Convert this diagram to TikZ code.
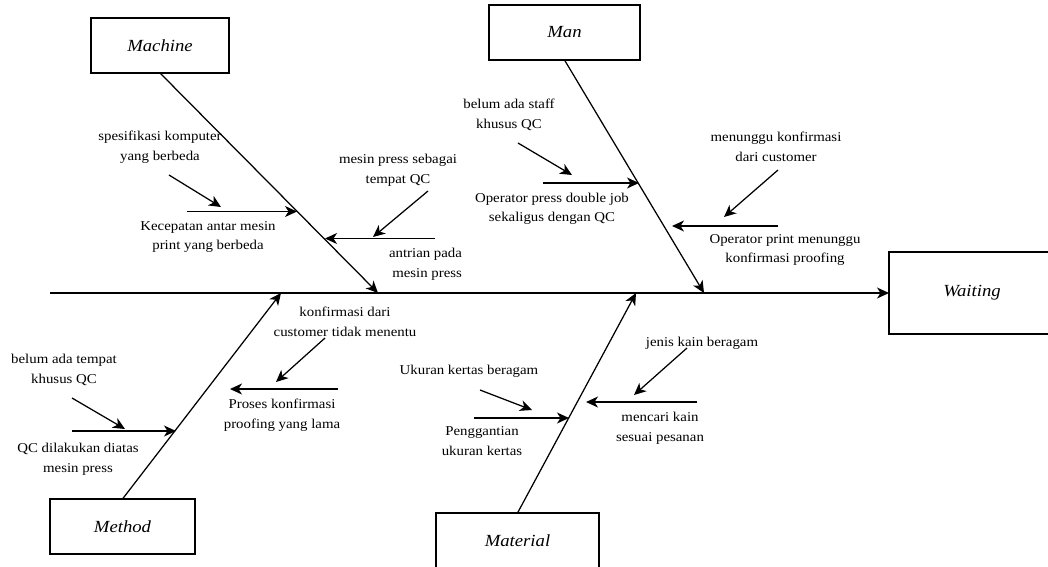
\documentclass[tikz,border=0pt]{standalone}
\usepackage{fontspec}
\setmainfont{Liberation Serif}[FakeStretch=1.1]
\usetikzlibrary{arrows.meta}
\begin{document}
\begin{tikzpicture}[x=1pt,y=-1pt,
  every node/.style={inner sep=0pt, outer sep=0pt},
  catbox/.style={draw, line width=1.2pt, font=\fontsize{17}{20}\selectfont\itshape},
  lbl/.style={align=center, font=\fontsize{13.5}{19.5}\selectfont},
  bone/.style={line width=1.25pt, -{Stealth[length=12pt,width=11pt,inset=3.5pt]}},
  sub/.style={line width=1.25pt, -{Stealth[length=12pt,width=11pt,inset=3.5pt]}}]
\useasboundingbox (0,0) rectangle (1048,566);

% category boxes
\node[catbox, minimum width=138pt, minimum height=55pt] (Machine) at (160,45.5) {Machine};
\node[catbox, minimum width=151pt, minimum height=55pt] (Man) at (564.5,32.5) {Man};
\node[catbox, minimum width=145pt, minimum height=55pt] (Method) at (122.5,526.5) {Method};
\node[catbox, minimum width=163pt, minimum height=64pt] (Material) at (517.5,545) {};
\node[font=\fontsize{17}{20}\selectfont\itshape] (MatLbl) at (517.5,541) {Material};
\node[draw, line width=1.2pt, minimum width=168pt, minimum height=82pt] (Wbox) at (973,293) {};
\node[font=\fontsize{17}{20}\selectfont\itshape] (Waiting) at (972,293) {Waiting};

% spine
\coordinate (tail) at (50,293);
\draw[bone] (tail) -- (Wbox.west);

% bone ends on spine
\coordinate (mc) at (378,293);
\coordinate (mn) at (704,293);
\coordinate (me) at (281,293);
\coordinate (ma) at (636,293);
\draw[bone] (Machine.south) -- (mc);
\draw[bone] (Man.south) -- (mn);
\draw[bone] (Method.north) -- (me);
\draw[bone] (Material.north) -- (ma);

% ---- Machine
\node[lbl] (L1) at (160,147) {spesifikasi komputer\\yang berbeda};
\coordinate (a1s) at (169,175); \coordinate (a1e) at (221,207);
\draw[sub] (a1s) -- (a1e);
\coordinate (h1s) at (187,211.5); \coordinate (h1e) at (297,211.5);
\draw[sub] (h1s) -- (h1e);
\node[lbl] (L2) at (208,237) {Kecepatan antar mesin\\print yang berbeda};

\node[lbl] (L3) at (398,170) {mesin press sebagai\\tempat QC};
\coordinate (a3s) at (428,191); \coordinate (a3e) at (373,237);
\draw[sub] (a3s) -- (a3e);
\coordinate (h3s) at (435,238.5); \coordinate (h3e) at (325,238.5);
\draw[sub] (h3s) -- (h3e);
\node[lbl, align=right, anchor=east] (L4) at (462,264) {antrian pada\\mesin press};

% ---- Man
\node[lbl] (L5) at (509,115) {belum ada staff\\khusus QC};
\coordinate (a5s) at (518,143); \coordinate (a5e) at (572,175);
\draw[sub] (a5s) -- (a5e);
\coordinate (h5s) at (543,183); \coordinate (h5e) at (639,183);
\draw[sub] (h5s) -- (h5e);
\node[lbl] (L6) at (552,209) {Operator press double job\\sekaligus dengan QC};

\node[lbl] (L7) at (776,147) {menunggu konfirmasi\\dari customer};
\coordinate (a7s) at (778,170); \coordinate (a7e) at (724,217);
\draw[sub] (a7s) -- (a7e);
\coordinate (h7s) at (778,226); \coordinate (h7e) at (672,226);
\draw[sub] (h7s) -- (h7e);
\node[lbl] (L8) at (785,250) {Operator print menunggu\\konfirmasi proofing};

% ---- Method
\node[lbl] (L9) at (64,370) {belum ada tempat\\khusus QC};
\coordinate (a9s) at (72,398); \coordinate (a9e) at (125,429);
\draw[sub] (a9s) -- (a9e);
\coordinate (h9s) at (72,431); \coordinate (h9e) at (176,431);
\draw[sub] (h9s) -- (h9e);
\node[lbl] (L10) at (78,459) {QC dilakukan diatas\\mesin press};

\node[lbl] (L11) at (345,322) {konfirmasi dari\\customer tidak menentu};
\coordinate (a11s) at (325,338); \coordinate (a11e) at (276,382);
\draw[sub] (a11s) -- (a11e);
\coordinate (h11s) at (338,389); \coordinate (h11e) at (230,389);
\draw[sub] (h11s) -- (h11e);
\node[lbl] (L12) at (282,415) {Proses konfirmasi\\proofing yang lama};

% ---- Material
\node[lbl] (L13) at (469,371) {Ukuran kertas beragam};
\coordinate (a13s) at (480,390); \coordinate (a13e) at (532,410);
\draw[sub] (a13s) -- (a13e);
\coordinate (h13s) at (474,418); \coordinate (h13e) at (569,418);
\draw[sub] (h13s) -- (h13e);
\node[lbl] (L14) at (482,441) {Penggantian\\ukuran kertas};

\node[lbl] (L15) at (702,343) {jenis kain beragam};
\coordinate (a15s) at (687,348); \coordinate (a15e) at (634,395);
\draw[sub] (a15s) -- (a15e);
\coordinate (h15s) at (697,402); \coordinate (h15e) at (586,402);
\draw[sub] (h15s) -- (h15e);
\node[lbl] (L16) at (660,428) {mencari kain\\sesuai pesanan};
\end{tikzpicture}
\end{document}
